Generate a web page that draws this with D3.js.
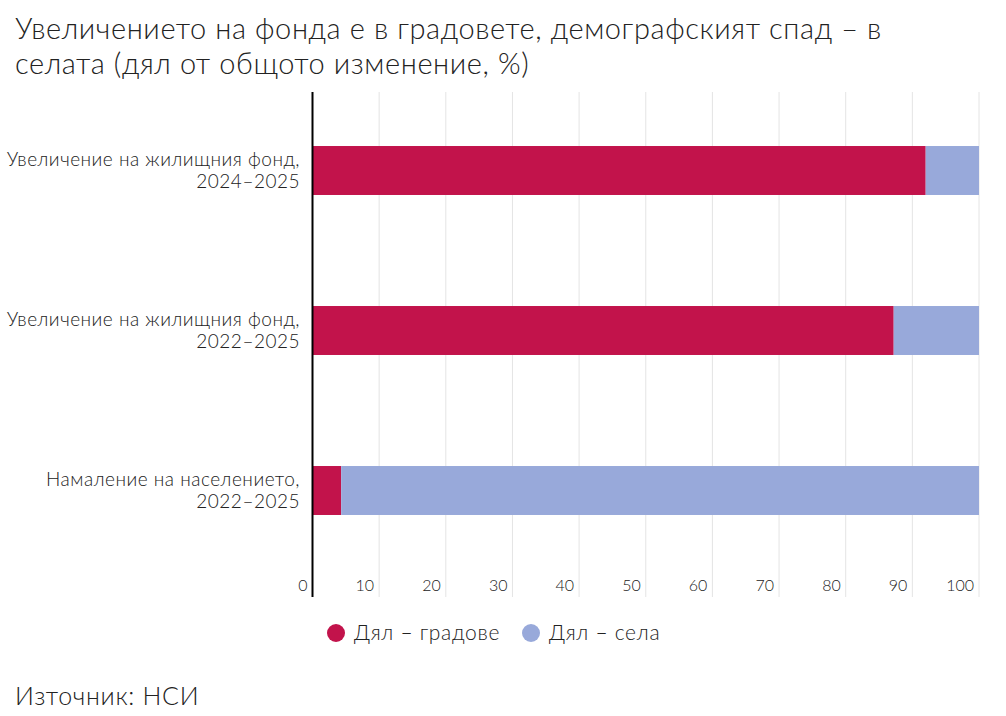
<!DOCTYPE html>
<html>
<head>
    <meta charset="UTF-8">
    <title>Увеличението на фонда</title>
    <script src="https://d3js.org/d3.v7.min.js"></script>
    <style>
        body { margin: 0; background: #fff; font-family: "Lato", "Roboto", sans-serif; font-weight: 300; color: #222; }
        .title { font-size: 29px; letter-spacing: 0.6px; fill: #222; }
        .cat { font-size: 19px; letter-spacing: 0.5px; fill: #222; }
        .tick-label { font-size: 16px; fill: #222; }
        .legend-text { font-size: 21px; letter-spacing: 0.7px; fill: #222; }
        .source { font-size: 25px; letter-spacing: 0.7px; fill: #222; }
    </style>
</head>
<body>
<svg id="chart" width="1006" height="716"></svg>
<script>
    // Данни
    const categories = [
        ["Увеличение на жилищния фонд,", "2024–2025"],
        ["Увеличение на жилищния фонд,", "2022–2025"],
        ["Намаление на населението,", "2022–2025"]
    ];
    const cities = [92.0, 87.2, 4.3];
    const villages = [8.0, 12.8, 95.7];
    const seriesNames = ["Дял – градове", "Дял – села"];
    const ticks = [0, 10, 20, 30, 40, 50, 60, 70, 80, 90, 100];
    const colors = ["#c2134b", "#98a9da"];

    const svg = d3.select("#chart");

    // Заглавие
    const titleLines = ["Увеличението на фонда е в градовете, демографският спад – в",
                        "селата (дял от общото изменение, %)"];
    svg.selectAll("text.title")
        .data(titleLines)
        .enter().append("text")
        .attr("class", "title")
        .attr("x", 15)
        .attr("y", (d, i) => 39 + i * 35)
        .text(d => d);

    const x = d3.scaleLinear().domain([0, 100]).range([312.5, 979]);
    const y = d3.scaleBand().domain(d3.range(categories.length))
        .range([90.5, 570.5]).paddingInner(0.694).paddingOuter(0.347);

    // Решетка
    svg.append("g").selectAll("line")
        .data(ticks.slice(1))
        .enter().append("line")
        .attr("x1", d => x(d)).attr("x2", d => x(d))
        .attr("y1", 92).attr("y2", 597)
        .attr("stroke", "#e4e4e4").attr("stroke-width", 1);

    // Етикети по оста X
    svg.append("g").selectAll("text")
        .data(ticks)
        .enter().append("text")
        .attr("class", "tick-label")
        .attr("text-anchor", "end")
        .attr("x", d => x(d) - 5)
        .attr("y", 591)
        .text(d => d);

    // Стълбове
    const stackData = categories.map((c, i) => ({i: i, cities: cities[i], villages: villages[i]}));
    const stacked = d3.stack().keys(["cities", "villages"])(stackData);
    svg.append("g").selectAll("g")
        .data(stacked)
        .enter().append("g")
        .attr("fill", (d, k) => colors[k])
        .selectAll("rect")
        .data(d => d)
        .enter().append("rect")
        .attr("x", d => x(d[0]))
        .attr("width", d => x(d[1]) - x(d[0]))
        .attr("y", d => y(d.data.i))
        .attr("height", y.bandwidth());

    // Ос Y
    svg.append("line")
        .attr("x1", x(0)).attr("x2", x(0))
        .attr("y1", 92).attr("y2", 597)
        .attr("stroke", "#000").attr("stroke-width", 2);

    // Категории
    const cat = svg.append("g").selectAll("text")
        .data(categories)
        .enter().append("text")
        .attr("class", "cat")
        .attr("text-anchor", "end")
        .attr("y", (d, i) => y(i) + y.bandwidth() / 2 - 5);
    cat.selectAll("tspan")
        .data(d => d)
        .enter().append("tspan")
        .attr("x", 300)
        .attr("dy", (d, j) => j === 0 ? 0 : 22)
        .text(d => d);

    // Легенда
    const legendX = [336, 531];
    const legend = svg.append("g").selectAll("g")
        .data(seriesNames)
        .enter().append("g")
        .attr("transform", (d, i) => `translate(${legendX[i]},633)`);
    legend.append("circle").attr("r", 9).attr("fill", (d, i) => colors[i]);
    legend.append("text").attr("class", "legend-text")
        .attr("x", 18).attr("y", 7).text(d => d);

    // Източник
    svg.append("text").attr("class", "source")
        .attr("x", 15).attr("y", 705).text("Източник: НСИ");
</script>
</body>
</html>
